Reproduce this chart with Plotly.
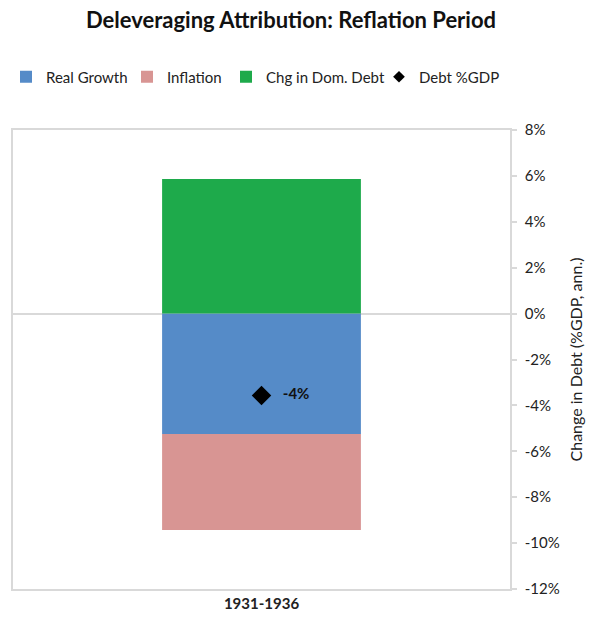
import plotly.graph_objects as go

# Attribution of the annual change in debt (% of GDP) over the reflation period
periods = ["1931-1936"]
real_growth = [-5.25]
inflation = [-4.18]
chg_dom_debt = [5.86]
debt_pct_gdp = [-3.57]

# Right-hand axis ticks
tick_values = [8, 6, 4, 2, 0, -2, -4, -6, -8, -10, -12]
tick_labels = ["8%", "6%", "4%", "2%", "0%", "-2%", "-4%", "-6%", "-8%", "-10%", "-12%"]

FONT = "Lato"
GRID = "#d9d9d9"

fig = go.Figure()

fig.add_trace(go.Bar(
    x=periods, y=real_growth, name="Real Growth", showlegend=True,
    marker=dict(color="#558bc8", line=dict(width=0)), legend="legend",
))
fig.add_trace(go.Bar(
    x=periods, y=inflation, name="Inflation", showlegend=True,
    marker=dict(color="#d89593", line=dict(width=0)), legend="legend2",
))
fig.add_trace(go.Bar(
    x=periods, y=chg_dom_debt, name="Chg in Dom. Debt", showlegend=True,
    marker=dict(color="#1eaa4b", line=dict(width=0)), legend="legend3",
))
fig.add_trace(go.Scatter(
    x=periods, y=debt_pct_gdp, name="Debt %GDP", mode="markers+text",
    showlegend=False, legendgroup="debt",
    marker=dict(symbol="diamond", size=15, color="black"),
    texttemplate="   %{y:.0f}%", textposition="middle right",
    textfont=dict(family=FONT, size=15, color="#111", weight="bold"),
))
# Legend key for the debt marker, drawn smaller than the plotted diamond
fig.add_trace(go.Scatter(
    x=[None], y=[None], name="Debt %GDP", mode="markers",
    showlegend=True, legendgroup="debt", legend="legend4",
    marker=dict(symbol="diamond", size=9, color="black"),
))

legend_common = dict(
    orientation="h", xref="container", yref="container",
    yanchor="middle", y=1 - 77 / 619, xanchor="left",
    font=dict(family=FONT, size=15, color="#222"),
    bgcolor="rgba(0,0,0,0)", itemwidth=30, visible=True,
)

fig.update_layout(
    width=594, height=619,
    margin=dict(l=13, r=84, t=130, b=30, autoexpand=False),
    paper_bgcolor="white", plot_bgcolor="white",
    barmode="relative", bargap=0.6, showlegend=True,
    font=dict(family=FONT, color="#222"),
    title=dict(
        text="Deleveraging Attribution: Reflation Period",
        xref="container", x=291 / 594, xanchor="center",
        yref="container", y=1 - 20 / 619, yanchor="middle",
        font=dict(family=FONT, size=22, color="#111", weight="bold"),
    ),
    legend=dict(legend_common, x=6 / 594),
    legend2=dict(legend_common, x=127 / 594),
    legend3=dict(legend_common, x=226 / 594),
    legend4=dict(legend_common, x=379 / 594),
    xaxis=dict(
        showline=True, linecolor=GRID, linewidth=1.5, mirror=True,
        showgrid=False, ticks="", automargin=False,
        tickfont=dict(family=FONT, size=15, color="#222", weight="bold"),
    ),
    yaxis=dict(
        side="right", range=[-12, 8], automargin=False,
        tickmode="array", tickvals=tick_values, ticktext=tick_labels,
        showline=True, linecolor=GRID, linewidth=1.5, mirror=True,
        ticks="outside", ticklen=5, tickcolor=GRID, tickwidth=1.5,
        ticklabelstandoff=5,
        showgrid=False, zeroline=True, zerolinecolor=GRID, zerolinewidth=1.5,
        tickfont=dict(family=FONT, size=15, color="#222"),
        title=dict(text="Change in Debt (%GDP, ann.)", standoff=12,
                   font=dict(family=FONT, size=16, color="#222")),
    ),
)

fig.write_html("out.html")
